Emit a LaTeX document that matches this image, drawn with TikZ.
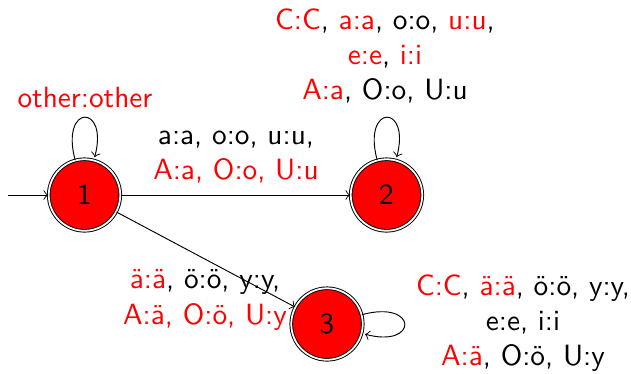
\documentclass[tikz,border=0pt]{standalone}
\usetikzlibrary{automata}
\begin{document}
\begin{tikzpicture}[x=0.3413pt,y=-0.3413pt, font=\sffamily, >=to, line width=0.32pt,
  st/.style={circle, draw, double, double distance=0.6pt, fill=red, minimum size=24.4pt, inner sep=0pt},
  lab/.style={align=center, inner sep=0pt},
  r/.style={text=red}]
\useasboundingbox (0,0) rectangle (631,373);
\node[st] (s1) at (84.5,195) {1};
\node[st] (s2) at (386.5,195) {2};
\node[st] (s3) at (327,324) {3};
\coordinate (init) at (8,195);
\draw[->] (init) -- (s1);
\draw[->] (s1) -- (s2);
\draw[->] (s1) -- (s3);
\draw[->] (s1) edge[loop above] (s1);
\draw[->] (s2) edge[loop above] (s2);
\draw[->] (s3) edge[loop right] (s3);
\node[lab, text=red] (l11) at (85,97) {other:other};
\node[lab] (l12) at (236,157) {a:a, o:o, u:u,\\ \textcolor{red}{A:a, O:o, U:u}};
\node[lab] (l22) at (385,56) {\textcolor{red}{C:C}, \textcolor{red}{a:a}, o:o, \textcolor{red}{u:u},\\ \textcolor{red}{e:e}, \textcolor{red}{i:i}\\ \textcolor{red}{A:a}, O:o, U:u};
\node[lab] (l13) at (205,300) {\textcolor{red}{ä:ä}, ö:ö, y:y,\\ \textcolor{red}{A:ä, O:ö, U:y}};
\node[lab] (l33) at (523,323) {\textcolor{red}{C:C}, \textcolor{red}{ä:ä}, ö:ö, y:y,\\ e:e, i:i\\ \textcolor{red}{A:ä}, O:ö, U:y};
\end{tikzpicture}
\end{document}
